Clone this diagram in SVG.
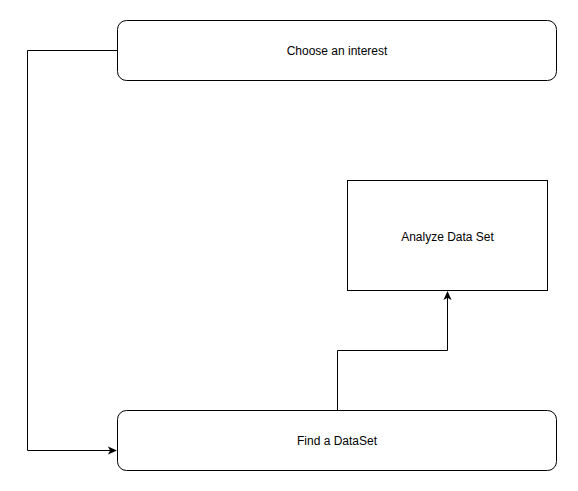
<svg xmlns="http://www.w3.org/2000/svg" width="578" height="491" viewBox="0 0 578 491">
<style>
.n{fill:#fff;stroke:#000;stroke-width:1}
.t{font-family:"Liberation Sans",Arial,sans-serif;font-size:12px;fill:#000;text-anchor:middle}
.c{fill:none;stroke:#000;stroke-width:1}
</style>
<defs>
<marker id="a" viewBox="0 0 10 10" refX="9" refY="5" markerWidth="9" markerHeight="9" markerUnits="userSpaceOnUse" orient="auto">
<path d="M0,0.5 L10,5 L0,9.5 L2.5,5 Z" fill="#000"/>
</marker>
</defs>
<rect width="578" height="491" fill="#fff"/>
<g id="connectors">
<path class="c" d="M117.5,50.5 H27.5 V450.5 H116" marker-end="url(#a)"/>
<path class="c" d="M337.5,410.5 V350.5 H447.5 V292" marker-end="url(#a)"/>
</g>
<g id="choose">
<rect class="n" x="117.5" y="20.5" width="439" height="60" rx="9" ry="9"/>
<text class="t" x="337" y="54.5">Choose an interest</text>
</g>
<g id="analyze">
<rect class="n" x="347.5" y="180.5" width="200" height="110"/>
<text class="t" x="447.5" y="241">Analyze Data Set</text>
</g>
<g id="find">
<rect class="n" x="117.5" y="410.5" width="439" height="60" rx="9" ry="9"/>
<text class="t" x="337" y="445">Find a DataSet</text>
</g>
</svg>
